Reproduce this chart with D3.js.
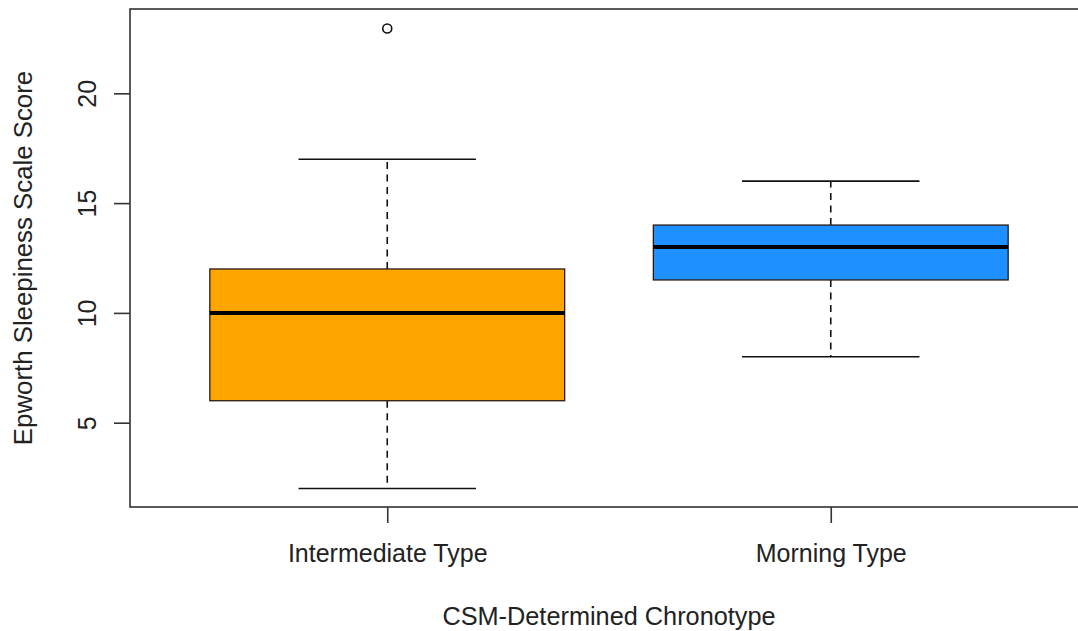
<!DOCTYPE html>
<html>
<head>
<meta charset="utf-8">
<script src="https://cdn.jsdelivr.net/npm/d3@7"></script>
<style>
  html, body { margin: 0; padding: 0; background: #ffffff; }
  svg { display: block; }
  text { font-family: "Liberation Sans", Arial, sans-serif; fill: #222; }
</style>
</head>
<body>
<svg id="chart" width="1078" height="631"></svg>
<script>
// ---- data ----
const categories = ["Intermediate Type", "Morning Type"];
const whiskerLow  = [2, 8];
const q1          = [6, 11.5];
const medians     = [10, 13];
const q3          = [12, 14];
const whiskerHigh = [17, 16];
const outliers    = [[23], []];
const boxColors   = ["#FFA500", "#1E90FF"];
const yTicks      = [5, 10, 15, 20];
const xTitle = "CSM-Determined Chronotype";
const yTitle = "Epworth Sleepiness Scale Score";

// ---- layout ----
const svg = d3.select("#chart");
const pLeft = 130, pRight = 1088, pTop = 9, pBottom = 507;

const x = d3.scaleLinear().domain([0.42, 2.58]).range([pLeft, pRight]);
const y = d3.scaleLinear().domain([1.16, 23.84]).range([pBottom, pTop]);

const boxHalf = 0.4, capHalf = 0.2;

const g = svg.append("g");

categories.forEach((c, i) => {
  const cx = i + 1;
  // whiskers (dashed)
  g.append("line")
    .attr("x1", x(cx)).attr("x2", x(cx))
    .attr("y1", y(q3[i])).attr("y2", y(whiskerHigh[i]))
    .attr("stroke", "#111").attr("stroke-width", 1.6).attr("stroke-dasharray", "7,5.5");
  g.append("line")
    .attr("x1", x(cx)).attr("x2", x(cx))
    .attr("y1", y(q1[i])).attr("y2", y(whiskerLow[i]))
    .attr("stroke", "#111").attr("stroke-width", 1.6).attr("stroke-dasharray", "7,5.5");
  // caps
  [whiskerHigh[i], whiskerLow[i]].forEach(v => {
    g.append("line")
      .attr("x1", x(cx - capHalf)).attr("x2", x(cx + capHalf))
      .attr("y1", y(v)).attr("y2", y(v))
      .attr("stroke", "#111").attr("stroke-width", 1.6);
  });
  // box
  g.append("rect")
    .attr("x", x(cx - boxHalf)).attr("width", x(cx + boxHalf) - x(cx - boxHalf))
    .attr("y", y(q3[i])).attr("height", y(q1[i]) - y(q3[i]))
    .attr("fill", boxColors[i]).attr("stroke", "#2a1a10").attr("stroke-width", 1.3);
  // median
  g.append("line")
    .attr("x1", x(cx - boxHalf)).attr("x2", x(cx + boxHalf))
    .attr("y1", y(medians[i])).attr("y2", y(medians[i]))
    .attr("stroke", "#000").attr("stroke-width", 4);
  // outliers
  outliers[i].forEach(v => {
    g.append("circle")
      .attr("cx", x(cx)).attr("cy", y(v) + 1).attr("r", 4.5)
      .attr("fill", "none").attr("stroke", "#111").attr("stroke-width", 1.6);
  });
});

// plot frame
svg.append("rect")
  .attr("x", pLeft).attr("y", pTop)
  .attr("width", pRight - pLeft).attr("height", pBottom - pTop)
  .attr("fill", "none").attr("stroke", "#333").attr("stroke-width", 1.6);

// y axis
const yAxis = svg.append("g").attr("transform", `translate(${pLeft},0)`)
  .call(d3.axisLeft(y).tickValues(yTicks).tickSize(16).tickPadding(0).tickFormat(d3.format("d")));
yAxis.select(".domain").remove();
yAxis.selectAll(".tick line").attr("stroke", "#333").attr("stroke-width", 1.6);
yAxis.selectAll(".tick text")
  .attr("x", 0).attr("y", 0)
  .attr("transform", "translate(-34,0) rotate(-90)")
  .attr("text-anchor", "middle")
  .attr("dy", "0")
  .style("font-size", "25px")
  .style("fill", "#222")
  .style("font-family", "Liberation Sans, Arial, sans-serif");

// x axis
const xAxis = svg.append("g").attr("transform", `translate(0,${pBottom})`)
  .call(d3.axisBottom(x).tickValues([1, 2]).tickSize(16).tickPadding(0)
    .tickFormat(d => categories[d - 1]));
xAxis.select(".domain").remove();
xAxis.selectAll(".tick line").attr("stroke", "#333").attr("stroke-width", 1.6);
xAxis.selectAll(".tick text")
  .attr("y", 55).attr("dy", "0")
  .style("font-size", "25px")
  .style("fill", "#222")
  .style("font-family", "Liberation Sans, Arial, sans-serif");

// titles
svg.append("text")
  .attr("x", (pLeft + pRight) / 2).attr("y", 625)
  .attr("text-anchor", "middle")
  .style("font-size", "25.3px")
  .text(xTitle);

svg.append("text")
  .attr("transform", `translate(32,${(pTop + pBottom) / 2}) rotate(-90)`)
  .attr("text-anchor", "middle")
  .style("font-size", "25.8px")
  .text(yTitle);
</script>
</body>
</html>
